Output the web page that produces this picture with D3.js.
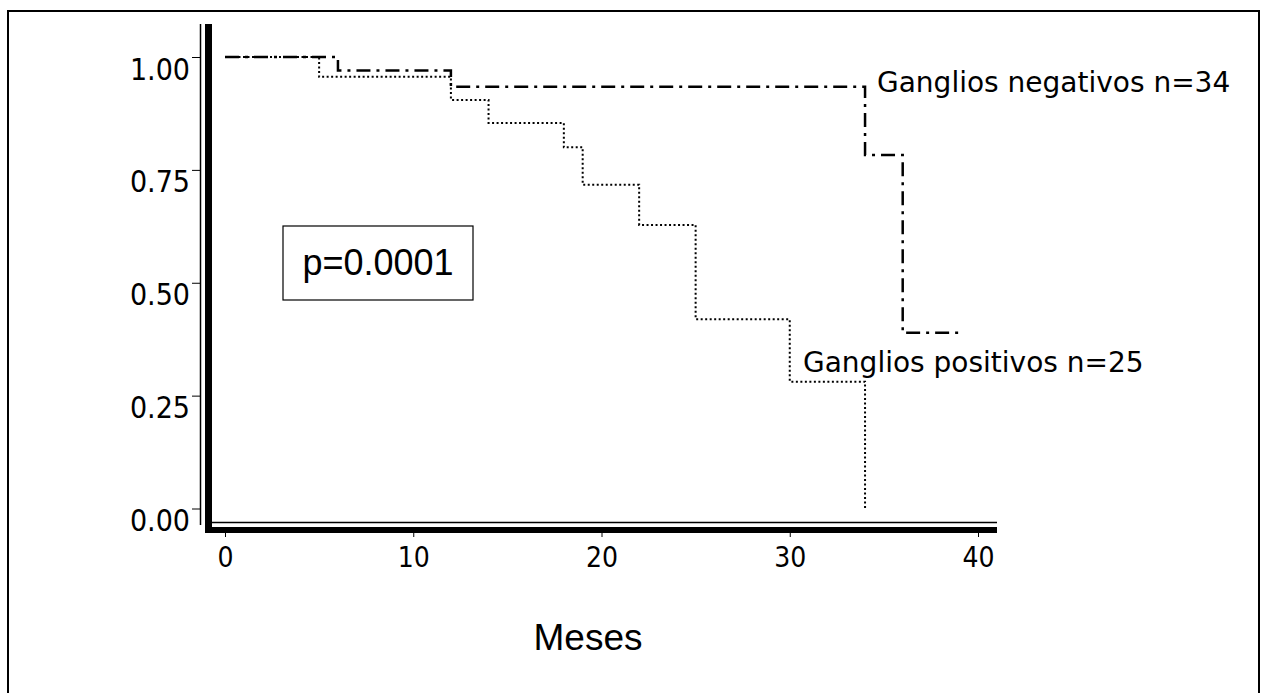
<!DOCTYPE html>
<html>
<head>
<meta charset="utf-8">
<script src="https://cdn.jsdelivr.net/npm/d3@7/dist/d3.min.js"></script>
<style>
  body { margin: 0; background: #fff; }
  svg { display: block; }
</style>
</head>
<body>
<script>
// survival data (months, proportion)
var negMonths = [0, 6, 12, 34, 36, 39];
var negSurv   = [1, 0.97, 0.934, 0.783, 0.389, 0.389];

var posMonths = [0, 5, 12, 14, 18, 19, 22, 25, 30, 34];
var posSurv   = [1, 0.956, 0.905, 0.854, 0.80, 0.717, 0.628, 0.419, 0.281, 0];

var xTicks = [0, 10, 20, 30, 40];
var yTicks = [0, 0.25, 0.5, 0.75, 1];
var yTickLabels = ["0.00", "0.25", "0.50", "0.75", "1.00"];

var negLabel = "Ganglios negativos n=34";
var posLabel = "Ganglios positivos n=25";
var pLabel = "p=0.0001";
var xTitle = "Meses";

var w = 1262, h = 693;

var svg = d3.select("body").append("svg")
  .attr("width", w)
  .attr("height", h);

// outer frame
svg.append("rect")
  .attr("x", 8).attr("y", 11)
  .attr("width", 1251).attr("height", 700)
  .attr("fill", "none")
  .attr("stroke", "#000")
  .attr("stroke-width", 2);

var x = d3.scaleLinear().domain([0, 40]).range([225, 978]);
var y = d3.scaleLinear().domain([0, 1]).range([508.5, 57]);

// axis frame: thin line + thick bar on each axis
var yTop = 24, xLeft = 205, xRight = 997, xBase = 530;
svg.append("line")   // thin left
  .attr("x1", 200.5).attr("x2", 200.5).attr("y1", yTop).attr("y2", 525)
  .attr("stroke", "#000").attr("stroke-width", 1.5);
svg.append("line")   // thick left
  .attr("x1", 208.5).attr("x2", 208.5).attr("y1", yTop).attr("y2", 533)
  .attr("stroke", "#000").attr("stroke-width", 7);
svg.append("line")   // thin bottom
  .attr("x1", 212).attr("x2", xRight).attr("y1", 522.5).attr("y2", 522.5)
  .attr("stroke", "#000").attr("stroke-width", 1.5);
svg.append("line")   // thick bottom
  .attr("x1", xLeft).attr("x2", xRight).attr("y1", xBase).attr("y2", xBase)
  .attr("stroke", "#000").attr("stroke-width", 6);

// y axis ticks + labels
var yAxis = svg.append("g")
  .attr("transform", "translate(200,0)")
  .call(d3.axisLeft(y).tickValues(yTicks).tickSize(8)
    .tickFormat(function(d, i) { return yTickLabels[i]; }));
yAxis.select(".domain").remove();
yAxis.selectAll(".tick line").attr("stroke-width", 1);
yAxis.selectAll(".tick text")
  .attr("x", -10)
  .attr("dy", null)
  .attr("y", 22)
  .style("font-family", "'DejaVu Sans Condensed', 'DejaVu Sans', sans-serif")
  .style("font-size", "30px")
  .attr("fill", "#000");

// x axis ticks + labels
var xAxis = svg.append("g")
  .attr("transform", "translate(0,533)")
  .call(d3.axisBottom(x).tickValues(xTicks).tickSize(4).tickFormat(d3.format("d")));
xAxis.select(".domain").remove();
xAxis.selectAll(".tick line").attr("stroke-width", 1);
xAxis.selectAll(".tick text")
  .attr("dy", null)
  .attr("y", 34)
  .style("font-family", "'DejaVu Sans Condensed', 'DejaVu Sans', sans-serif")
  .style("font-size", "28px")
  .attr("fill", "#000");

// curves
var line = d3.line()
  .x(function(d) { return x(d[0]); })
  .y(function(d) { return y(d[1]); })
  .curve(d3.curveStepAfter);

var negData = negMonths.map(function(m, i) { return [m, negSurv[i]]; });
var posData = posMonths.map(function(m, i) { return [m, posSurv[i]]; });

svg.append("path")
  .datum(posData)
  .attr("d", line)
  .attr("fill", "none")
  .attr("stroke", "#000")
  .attr("stroke-width", 2)
  .attr("stroke-dasharray", "2,2.5");

svg.append("path")
  .datum(negData)
  .attr("d", line)
  .attr("fill", "none")
  .attr("stroke", "#000")
  .attr("stroke-width", 2.5)
  .attr("stroke-dasharray", "14,6,3,6");

// curve labels
svg.append("text")
  .attr("x", 877).attr("y", 92)
  .style("font-family", "'DejaVu Sans', sans-serif")
  .style("font-size", "28px")
  .text(negLabel);

svg.append("text")
  .attr("x", 803).attr("y", 372)
  .style("font-family", "'DejaVu Sans', sans-serif")
  .style("font-size", "28px")
  .text(posLabel);

// p-value box
svg.append("rect")
  .attr("x", 283).attr("y", 226)
  .attr("width", 190).attr("height", 74)
  .attr("fill", "none")
  .attr("stroke", "#000")
  .attr("stroke-width", 1.2);
svg.append("text")
  .attr("x", 378).attr("y", 275)
  .attr("text-anchor", "middle")
  .style("font-family", "'Liberation Sans', Arial, sans-serif")
  .style("font-size", "36px")
  .text(pLabel);

// x title
svg.append("text")
  .attr("x", 588).attr("y", 650)
  .attr("text-anchor", "middle")
  .style("font-family", "'Liberation Sans', Arial, sans-serif")
  .style("font-size", "37px")
  .text(xTitle);
</script>
</body>
</html>
